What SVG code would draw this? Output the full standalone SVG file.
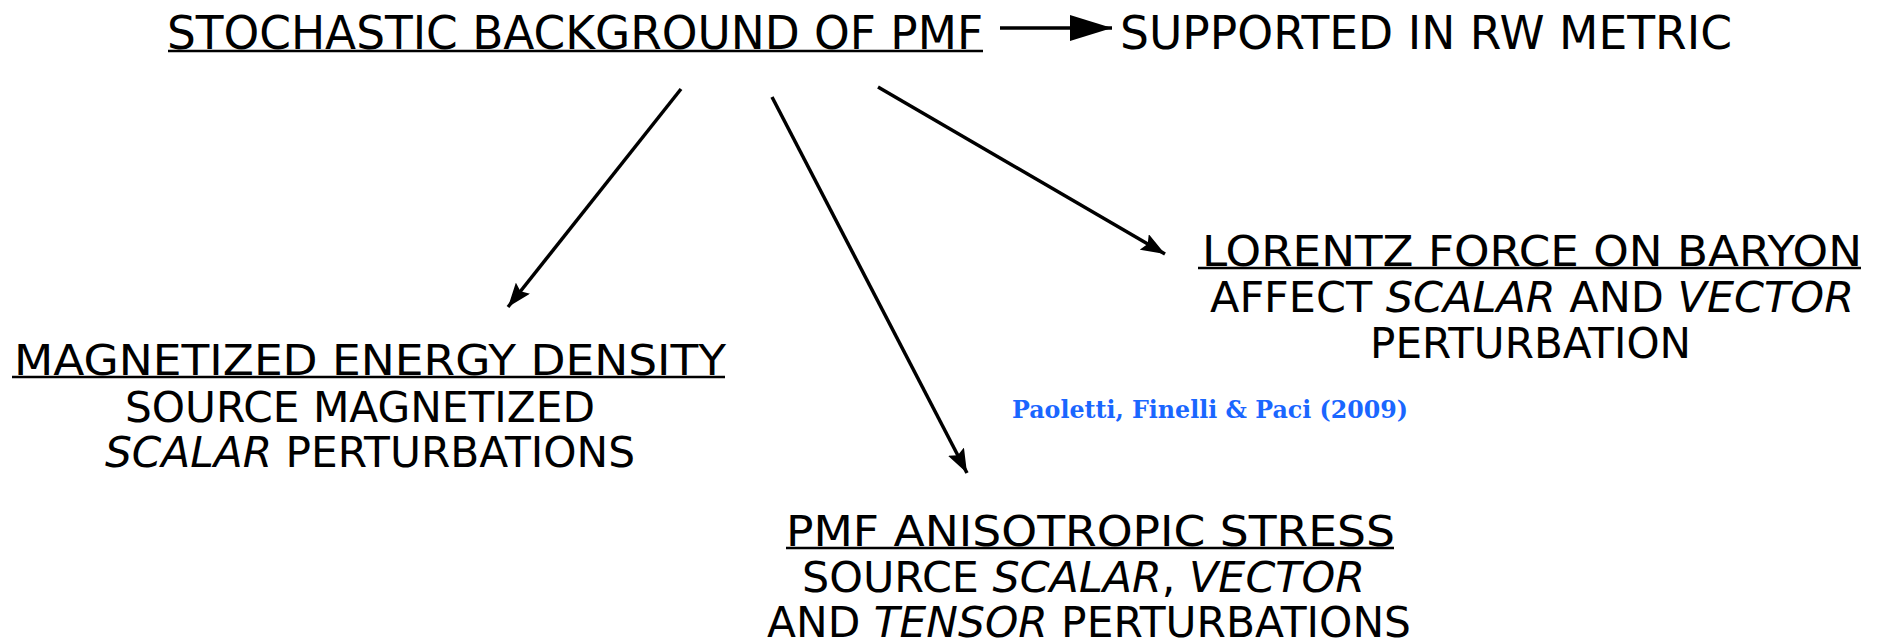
<svg xmlns="http://www.w3.org/2000/svg" width="1879" height="640" viewBox="0 0 1879 640">
<style>
.t{font-family:"DejaVu Sans",sans-serif;font-size:42px;fill:#000;text-anchor:middle}
.h{font-size:45.5px}
.i{font-style:italic}
.ul{stroke:#000;stroke-width:2.6}
.c{stroke:#000;stroke-width:3.5;fill:none}
.cite{font-family:"DejaVu Serif",serif;font-weight:bold;font-size:25px;fill:#1a66ff}
</style>
<defs>
<marker id="ah" markerUnits="userSpaceOnUse" markerWidth="26" markerHeight="18" refX="24" refY="9" orient="auto">
<path d="M0,0 L24,9 L0,18 L4,9 Z" fill="#000"/>
</marker>
<marker id="ahb" markerUnits="userSpaceOnUse" markerWidth="44" markerHeight="26" refX="42" refY="13" orient="auto">
<path d="M0,0 L42,13 L0,26 Z" fill="#000"/>
</marker>
</defs>
<rect width="1879" height="640" fill="#fff"/>
<g id="root">
<text class="t h" x="575" y="49" textLength="816" lengthAdjust="spacingAndGlyphs">STOCHASTIC BACKGROUND OF PMF</text>
<line class="ul" x1="168" y1="51" x2="983" y2="51"/>
</g>
<g id="rw">
<text class="t h" x="1426" y="49" textLength="612" lengthAdjust="spacingAndGlyphs">SUPPORTED IN RW METRIC</text>
</g>
<g id="energy">
<text class="t" x="370" y="375" textLength="712" lengthAdjust="spacingAndGlyphs">MAGNETIZED ENERGY DENSITY</text>
<line class="ul" x1="12" y1="377" x2="725" y2="377"/>
<text class="t" x="360" y="421.5" textLength="470" lengthAdjust="spacingAndGlyphs">SOURCE MAGNETIZED</text>
<text class="t" x="370" y="467" textLength="530" lengthAdjust="spacingAndGlyphs"><tspan class="i">SCALAR</tspan> PERTURBATIONS</text>
</g>
<g id="lorentz">
<text class="t" x="1532" y="265.5" textLength="660" lengthAdjust="spacingAndGlyphs">LORENTZ FORCE ON BARYON</text>
<line class="ul" x1="1198" y1="268" x2="1861" y2="268"/>
<text class="t" x="1532" y="311.5" textLength="644" lengthAdjust="spacingAndGlyphs">AFFECT <tspan class="i">SCALAR</tspan> AND <tspan class="i">VECTOR</tspan></text>
<text class="t" x="1530.5" y="358" textLength="321" lengthAdjust="spacingAndGlyphs">PERTURBATION</text>
</g>
<g id="stress">
<text class="t" x="1090.5" y="545.5" textLength="609" lengthAdjust="spacingAndGlyphs">PMF ANISOTROPIC STRESS</text>
<line class="ul" x1="786" y1="548" x2="1394" y2="548"/>
<text class="t" x="1083.5" y="591.5" textLength="563" lengthAdjust="spacingAndGlyphs">SOURCE <tspan class="i">SCALAR</tspan>, <tspan class="i">VECTOR</tspan></text>
<text class="t" x="1089" y="636.5" textLength="644" lengthAdjust="spacingAndGlyphs">AND <tspan class="i">TENSOR</tspan> PERTURBATIONS</text>
</g>
<g id="citation">
<text class="cite" x="1012" y="417.5" textLength="396" lengthAdjust="spacingAndGlyphs">Paoletti, Finelli &amp; Paci (2009)</text>
</g>
<g id="connectors">
<line class="c" x1="1000" y1="28" x2="1112" y2="28" marker-end="url(#ahb)"/>
<line class="c" x1="681" y1="89" x2="508" y2="307" marker-end="url(#ah)"/>
<line class="c" x1="772" y1="97" x2="967" y2="473" marker-end="url(#ah)"/>
<line class="c" x1="878" y1="87" x2="1165" y2="254" marker-end="url(#ah)"/>
</g>
</svg>
